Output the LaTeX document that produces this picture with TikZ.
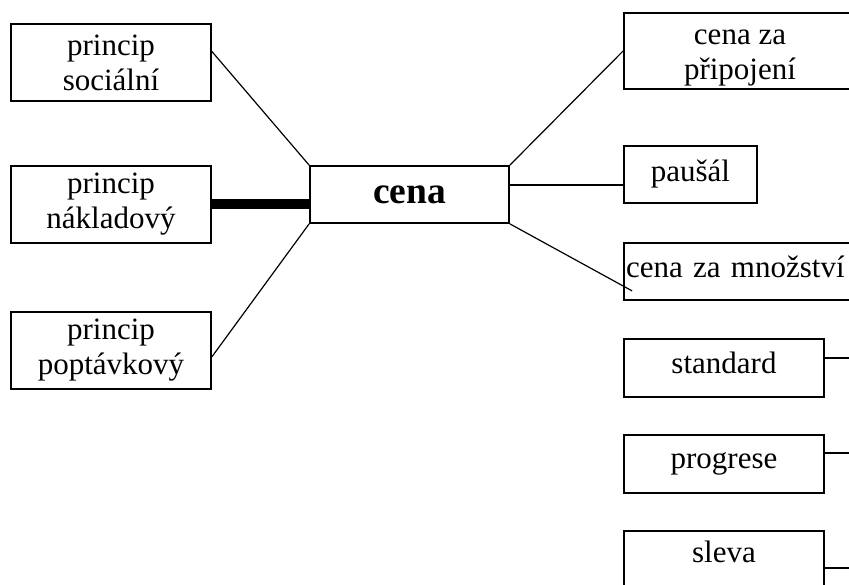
\documentclass[tikz,border=0pt]{standalone}
\usepackage{fontspec}
\setmainfont{Liberation Serif}
\usetikzlibrary{calc}
\tikzset{
  box/.style={draw=black, line width=1.8pt, rectangle, inner sep=1pt, align=center,
    font=\fontsize{31}{35}\selectfont, text=black},
  conn/.style={draw=black, line width=1.2pt},
  thickconn/.style={draw=black, line width=10pt}
}
\begin{document}
\begin{tikzpicture}[x=1pt, y=-1pt]
\useasboundingbox (0,0) rectangle (849,585);
\clip (0,0) rectangle (849,585);
% left
\node[box, minimum width=200pt, minimum height=77pt] (s1) at (111,62.5) {princip\\sociální};
\node[box, minimum width=200pt, minimum height=77pt] (s2) at (111,204.5) {princip\\nákladový};
\node[box, minimum width=200pt, minimum height=77pt] (s3) at (111,350.5) {princip\\poptávkový};
% centre
\node[box, minimum width=199pt, minimum height=57pt, font=\fontsize{37.5}{40}\selectfont\bfseries] (cena) at (409.5,194.5) {\raisebox{-4pt}{cena}};
% right
\node[box, minimum width=232pt, minimum height=76pt] (pripo) at (740,51) {\raisebox{-10pt}[0pt][0pt]{\begin{tabular}{@{}c@{}}cena za\\připojení\end{tabular}}};
\node[box, minimum width=133pt, minimum height=57pt] (pausal) at (690.5,174.5) {\raisebox{2pt}{paušál}};
\node[box, minimum width=232pt, minimum height=57pt, text width=228pt, align=left, inner sep=0pt] (mnoz) at (740,271.5) {\raisebox{10pt}{cena za množství}};
\node[box, minimum width=200pt, minimum height=58pt] (standard) at (724,368) {\raisebox{10pt}{standard}};
\node[box, minimum width=200pt, minimum height=58pt] (progrese) at (724,464) {\raisebox{6pt}{progrese}};
\node[box, minimum width=200pt, minimum height=58pt, text height=22pt] (sleva) at (724,560) {\raisebox{9pt}{sleva}};
% connectors left
\coordinate (s1p) at ($(s1.north east)!0.36!(s1.south east)$);
\coordinate (s3p) at ($(s3.north east)!0.58!(s3.south east)$);
\draw[conn] (s1p) -- (cena.north west);
\draw[conn] (s3p) -- (cena.south west);
\draw[thickconn] (s2.east) -- (s2.east -| cena.west);
% connectors right
\draw[conn] (cena.north east) -- (pripo.west);
\coordinate (pin) at ($(pausal.north west)!0.68!(pausal.south west)$);
\draw[conn] (cena.east |- pin) -- (pin);
\coordinate (mend) at ($(mnoz.south west)+(9,-10)$);
\draw[conn] (cena.south east) -- (mend);
\coordinate (se) at (870,358);
\coordinate (pe) at (870,453);
\coordinate (le) at (870,568);
\draw[conn] (standard.east |- se) -- (se);
\draw[conn] (progrese.east |- pe) -- (pe);
\draw[conn] (sleva.east |- le) -- (le);
\end{tikzpicture}
\end{document}
